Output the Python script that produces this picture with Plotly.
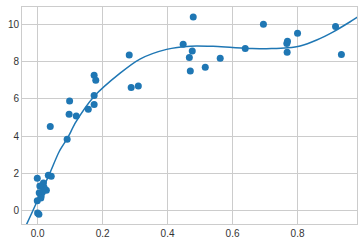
import plotly.graph_objects as go

# scatter data
pts_x = [0.0985, 0.097, 0.119, 0.156, 0.174, 0.179, 0.174, 0.174, 0.282, 0.288, 0.310,
         0.448, 0.479, 0.476, 0.467, 0.470, 0.516, 0.562, 0.639, 0.695, 0.767, 0.769, 0.768,
         0.800, 0.917, 0.935,
         0.039, 0.091, -0.001, 0.033, 0.042, 0.018, 0.007, 0.027, 0.015, 0.005, 0.011,
         -0.001, 0.0, 0.004, 0.020, 0.010]
pts_y = [5.89, 5.18, 5.09, 5.45, 7.27, 7.00, 6.19, 5.71, 8.36, 6.62, 6.70,
         8.93, 10.39, 8.57, 8.23, 7.50, 7.70, 8.18, 8.71, 10.00, 8.98, 9.10, 8.50,
         9.52, 9.89, 8.39,
         4.53, 3.84, 1.75, 1.91, 1.86, 1.50, 1.34, 1.11, 1.02, 0.98, 0.82,
         0.55, -0.11, -0.18, 1.25, 0.70]

# fitted curve
fit_x = [-0.040, -0.015, 0.037, 0.067, 0.092, 0.118, 0.173, 0.253, 0.315, 0.397, 0.470,
         0.540, 0.600, 0.660, 0.720, 0.770, 0.808, 0.859, 0.910, 0.962, 0.990]
fit_y = [-0.95, 0.0, 2.0, 3.2, 3.9, 4.77, 6.12, 7.37, 8.14, 8.66, 8.83,
         8.82, 8.76, 8.71, 8.70, 8.74, 8.84, 9.16, 9.60, 10.14, 10.45]

x_ticks = [0.0, 0.2, 0.4, 0.6, 0.8]
y_ticks = [0, 2, 4, 6, 8, 10]

blue = "#1f77b4"
fig = go.Figure()
fig.add_trace(go.Scatter(x=pts_x, y=pts_y, mode="markers",
                         marker=dict(color=blue, size=7, line=dict(width=0)),
                         showlegend=False))
fig.add_trace(go.Scatter(x=fit_x, y=fit_y, mode="lines",
                         line=dict(color=blue, width=1.5, shape="spline", smoothing=0.8),
                         showlegend=False))

axis_common = dict(showgrid=True, gridcolor="#cccccc", gridwidth=1,
                   showline=True, linecolor="#cccccc", linewidth=1, mirror=True,
                   zeroline=False, ticks="", tickfont=dict(family="Liberation Sans, Arial", size=10, color="#333333"))
fig.update_xaxes(range=[-0.048, 0.983], tickvals=x_ticks,
                 ticktext=[f"{v:.1f}" for v in x_ticks], **axis_common)
fig.update_yaxes(range=[-0.70, 10.93], tickvals=y_ticks,
                 ticktext=[str(v) for v in y_ticks], **axis_common)
fig.update_layout(width=363, height=244, margin=dict(l=22, r=6, t=7, b=20),
                  plot_bgcolor="white", paper_bgcolor="white")
fig.write_html("out.html")
